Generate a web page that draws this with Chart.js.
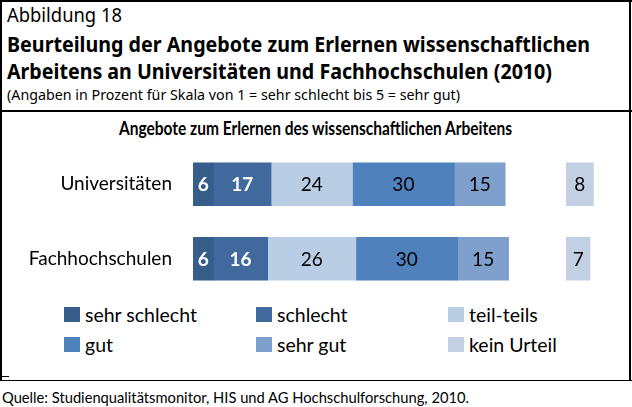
<!DOCTYPE html>
<html>
<head>
<meta charset="utf-8">
<script src="https://cdn.jsdelivr.net/npm/chart.js@4"></script>
<style>
  html, body { margin: 0; padding: 0; background: #fff; }
  #page { position: relative; width: 632px; height: 407px; overflow: hidden; font-family: Lato, "Noto Sans", sans-serif; color: #000; }
  .t { position: absolute; white-space: nowrap; line-height: 1; transform-origin: 0 0; }
  .cond { font-family: "Noto Sans", sans-serif; }
  .line { position: absolute; background: #000; }
  #chartBox { position: absolute; left: 0; top: 147px; width: 632px; height: 149px; }
  #legend { position: absolute; left: 0; top: 0; }
  .lg { position: absolute; font-size: 19.5px; line-height: 1; white-space: nowrap; }
  .lg i { position: absolute; left: 0; top: 2px; width: 16px; height: 15px; }
  .lg span { position: absolute; left: 21px; top: 0; }
</style>
</head>
<body>
<div id="page">
  <div class="line" style="left:0;top:0;width:632px;height:2px"></div>
  <div class="line" style="left:0;top:0;width:2px;height:381px"></div>
  <div class="line" style="left:629px;top:0;width:2px;height:381px"></div>
  <div class="line" style="left:0;top:110px;width:632px;height:2px"></div>
  <div class="line" style="left:0;top:380px;width:632px;height:1px"></div>
  <div class="line" style="left:0;top:376px;width:9px;height:1px"></div>

  <div class="t cond" data-w="115" style="left:7px;top:5px;font-size:20px">Abbildung 18</div>
  <div class="t cond" data-w="583" style="left:7px;top:34px;font-size:21px;font-weight:bold">Beurteilung der Angebote zum Erlernen wissenschaftlichen</div>
  <div class="t cond" data-w="545" style="left:7px;top:61px;font-size:21px;font-weight:bold">Arbeitens an Universitäten und Fachhochschulen (2010)</div>
  <div class="t cond" data-w="453" style="left:7px;top:88px;font-size:14px">(Angaben in Prozent für Skala von 1 = sehr schlecht bis 5 = sehr gut)</div>

  <div class="t" data-w="393" style="left:119px;top:119px;font-size:18px;font-weight:bold">Angebote zum Erlernen des wissenschaftlichen Arbeitens</div>

  <div id="chartBox"><canvas id="chart"></canvas></div>
  <div id="legend"></div>

  <div class="t" data-w="467" style="left:2px;top:390px;font-size:15px">Quelle: Studienqualitätsmonitor, HIS und AG Hochschulforschung, 2010.</div>
</div>

<script>
// ---------- Data ----------
const categories = ["Universitäten", "Fachhochschulen"];
const seriesNames = ["sehr schlecht", "schlecht", "teil-teils", "gut", "sehr gut"];
const sehrSchlecht = [6, 6];
const schlecht = [17, 16];
const teilTeils = [24, 26];
const gut = [30, 30];
const sehrGut = [15, 15];
const keinUrteilName = "kein Urteil";
const keinUrteil = [8, 7];

// ---------- Styles ----------
const colors = ["#375d8b", "#41699e", "#b9cde5", "#4f81bd", "#7f9fcc", "#c3cfe3"];
const labelColors = ["#fff", "#fff", "#000", "#000", "#000", "#000"];
const labelBold = [true, true, false, false, false, false];
const keinUrteilStart = 110;   // "kein Urteil" sits apart from the rating scale

// ---------- Text width fitting (condensed look) ----------
document.querySelectorAll(".t[data-w]").forEach(e => {
  const w = e.getBoundingClientRect().width;
  e.style.transform = "scaleX(" + (Number(e.dataset.w) / w) + ")";
});

// ---------- Build floating segments ----------
const ratingSeries = [sehrSchlecht, schlecht, teilTeils, gut, sehrGut];
const running = categories.map(() => 0);
const datasets = ratingSeries.map((vals, i) => {
  const data = vals.map((v, j) => {
    const seg = [running[j], running[j] + v];
    running[j] += v;
    return seg;
  });
  return { label: seriesNames[i], data, raw: vals, backgroundColor: colors[i] };
});
datasets.push({
  label: keinUrteilName,
  data: keinUrteil.map(v => [keinUrteilStart, keinUrteilStart + v]),
  raw: keinUrteil,
  backgroundColor: colors[5]
});
datasets.forEach((d, i) => {
  d.grouped = false;
  d.barThickness = 43;
  d.borderWidth = 0;
  d.labelColor = labelColors[i];
  d.labelBold = labelBold[i];
});

// ---------- Value labels ----------
const valueLabels = {
  id: "valueLabels",
  afterDatasetsDraw(chart) {
    const ctx = chart.ctx;
    ctx.save();
    ctx.textAlign = "center";
    ctx.textBaseline = "middle";
    chart.data.datasets.forEach((ds, i) => {
      chart.getDatasetMeta(i).data.forEach((bar, j) => {
        const p = bar.getProps(["x", "y", "base"], true);
        ctx.fillStyle = ds.labelColor;
        ctx.font = (ds.labelBold ? "bold " : "") + "19px Lato, 'Noto Sans', sans-serif";
        ctx.fillText(String(ds.raw[j]), (p.x + p.base) / 2, p.y + 1);
      });
    });
    ctx.restore();
  }
};

const chart = new Chart(document.getElementById("chart"), {
  type: "bar",
  data: { labels: categories, datasets },
  options: {
    indexAxis: "y",
    responsive: true,
    maintainAspectRatio: false,
    animation: false,
    layout: { autoPadding: false, padding: { left: 0, right: 25, top: 0, bottom: 0 } },
    plugins: { legend: { display: false }, tooltip: { enabled: false } },
    scales: {
      x: { display: false, min: 0, max: 122 },
      y: {
        grid: { display: false, drawTicks: false },
        border: { display: false },
        ticks: { padding: 21, color: "#000", font: { family: "Lato, 'Noto Sans', sans-serif", size: 19 } },
        afterFit(s) { s.width = 193; s.paddingTop = 0; s.paddingBottom = 0; }
      }
    }
  },
  plugins: [valueLabels]
});

// ---------- Legend (3 columns, from the chart's datasets) ----------
const legendCols = [64, 256, 448];
const legendRows = [305, 335];
const legendEl = document.getElementById("legend");
chart.data.datasets.forEach((ds, i) => {
  const item = document.createElement("div");
  item.className = "lg";
  item.style.left = legendCols[i % 3] + "px";
  item.style.top = legendRows[Math.floor(i / 3)] + "px";
  item.innerHTML = '<i style="background:' + ds.backgroundColor + '"></i><span>' + ds.label + "</span>";
  legendEl.appendChild(item);
});
</script>
</body>
</html>
